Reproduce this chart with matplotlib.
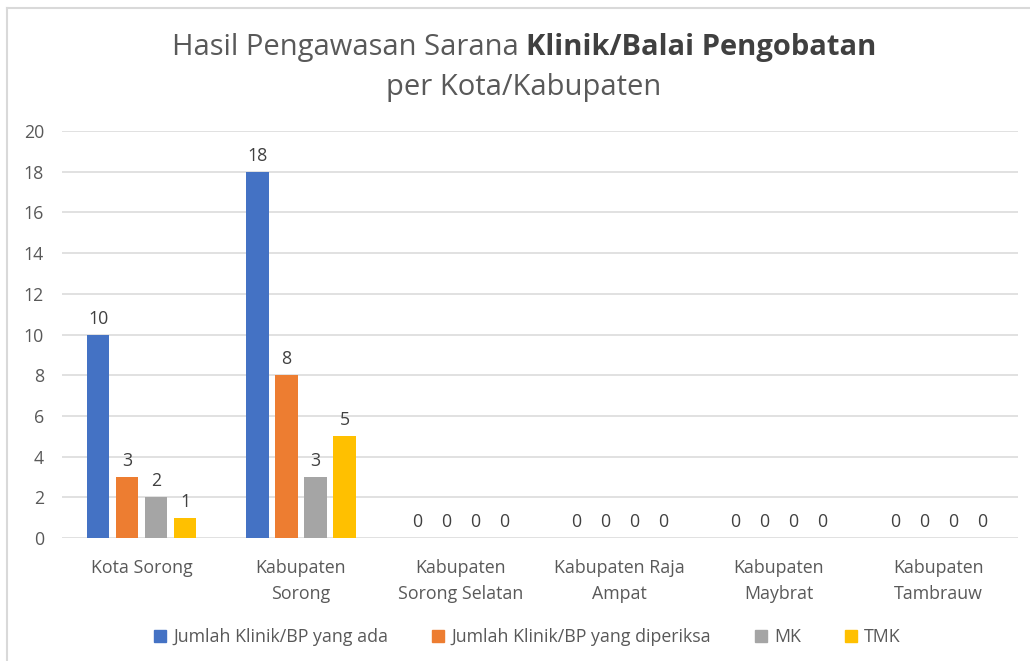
import matplotlib
matplotlib.use("Agg")
import matplotlib.pyplot as plt
import numpy as np
from matplotlib.lines import Line2D

categories = ["Kota Sorong", "Kabupaten\nSorong", "Kabupaten\nSorong Selatan",
              "Kabupaten Raja\nAmpat", "Kabupaten\nMaybrat", "Kabupaten\nTambrauw"]
series_names = ["Jumlah Klinik/BP yang ada", "Jumlah Klinik/BP yang diperiksa", "MK", "TMK"]
ada = [10, 18, 0, 0, 0, 0]
diperiksa = [3, 8, 0, 0, 0, 0]
mk = [2, 3, 0, 0, 0, 0]
tmk = [1, 5, 0, 0, 0, 0]
yticks = [0, 2, 4, 6, 8, 10, 12, 14, 16, 18, 20]

colors = ["#4472C4", "#ED7D31", "#A5A5A5", "#FFC000"]
txt = "#595959"
plt.rcParams['font.family'] = ['Open Sans', 'DejaVu Sans']

fig = plt.figure(figsize=(10.30, 6.61), dpi=100)
ax = fig.add_axes([62/1030, 1-538/661, (1018-62)/1030, (538-131)/661])

x = np.arange(len(categories))
w = 0.14
step = 0.182
data = [ada, diperiksa, mk, tmk]
fsz = 12.8
for i, (vals, c, name) in enumerate(zip(data, colors, series_names)):
    pos = x + (i - 1.5) * step
    bars = ax.bar(pos, vals, width=w, color=c, label=name, zorder=3)
    for b, v in zip(bars, vals):
        ax.annotate(str(v), (b.get_x() + b.get_width()/2, v), xytext=(0, 5),
                    textcoords="offset points", ha="center", va="bottom",
                    fontsize=fsz, color="#404040")

ax.set_xlim(-0.5, len(categories) - 0.5)
ax.set_ylim(0, 20)
ax.set_yticks(yticks)
ax.yaxis.grid(True, color="#D9D9D9", linewidth=1.1, zorder=0)
ax.set_axisbelow(True)
for s in ax.spines.values():
    s.set_visible(False)
ax.tick_params(axis="both", length=0, labelsize=fsz, labelcolor=txt)
ax.tick_params(axis="y", pad=13)
ax.tick_params(axis="x", pad=15)
ax.set_xticks(x)
ax.set_xticklabels(categories, linespacing=1.6)

handles = [Line2D([0], [0], marker="s", linestyle="none", markersize=8,
                  markerfacecolor=c, markeredgecolor=c) for c in colors]
fig.legend(handles, series_names, loc="center", bbox_to_anchor=(527/1030, 1-637/661),
           ncol=4, frameon=False, fontsize=fsz, labelcolor=txt,
           handlelength=0.8, handletextpad=0.35, columnspacing=2.4)

# Title with mixed weight
renderer = fig.canvas.get_renderer()
fs = 21
p1 = fig.text(0, 0, "Hasil Pengawasan Sarana ", fontsize=fs, color=txt)
p2 = fig.text(0, 0, "Klinik/Balai Pengobatan", fontsize=fs, color="#404040", fontweight="bold")
w1 = p1.get_window_extent(renderer).width
w2 = p2.get_window_extent(renderer).width
cx = 524
start = cx - (w1 + w2) / 2
y1 = 1 - 47/661
p1.set_position((start/1030, y1)); p1.set_va("center")
p2.set_position(((start + w1)/1030, y1)); p2.set_va("center")
fig.text(cx/1030, 1 - 88/661, "per Kota/Kabupaten", fontsize=fs, color=txt,
         ha="center", va="center")

# border (left and top)
fig.add_artist(Line2D([6.5/1030, 6.5/1030], [0, 1 - 7.5/661], transform=fig.transFigure,
                      color="#D9D9D9", linewidth=1.5))
fig.add_artist(Line2D([6.5/1030, 1], [1 - 7.5/661, 1 - 7.5/661], transform=fig.transFigure,
                      color="#D9D9D9", linewidth=1.5))

fig.savefig("out.png", dpi=100, facecolor="white")
